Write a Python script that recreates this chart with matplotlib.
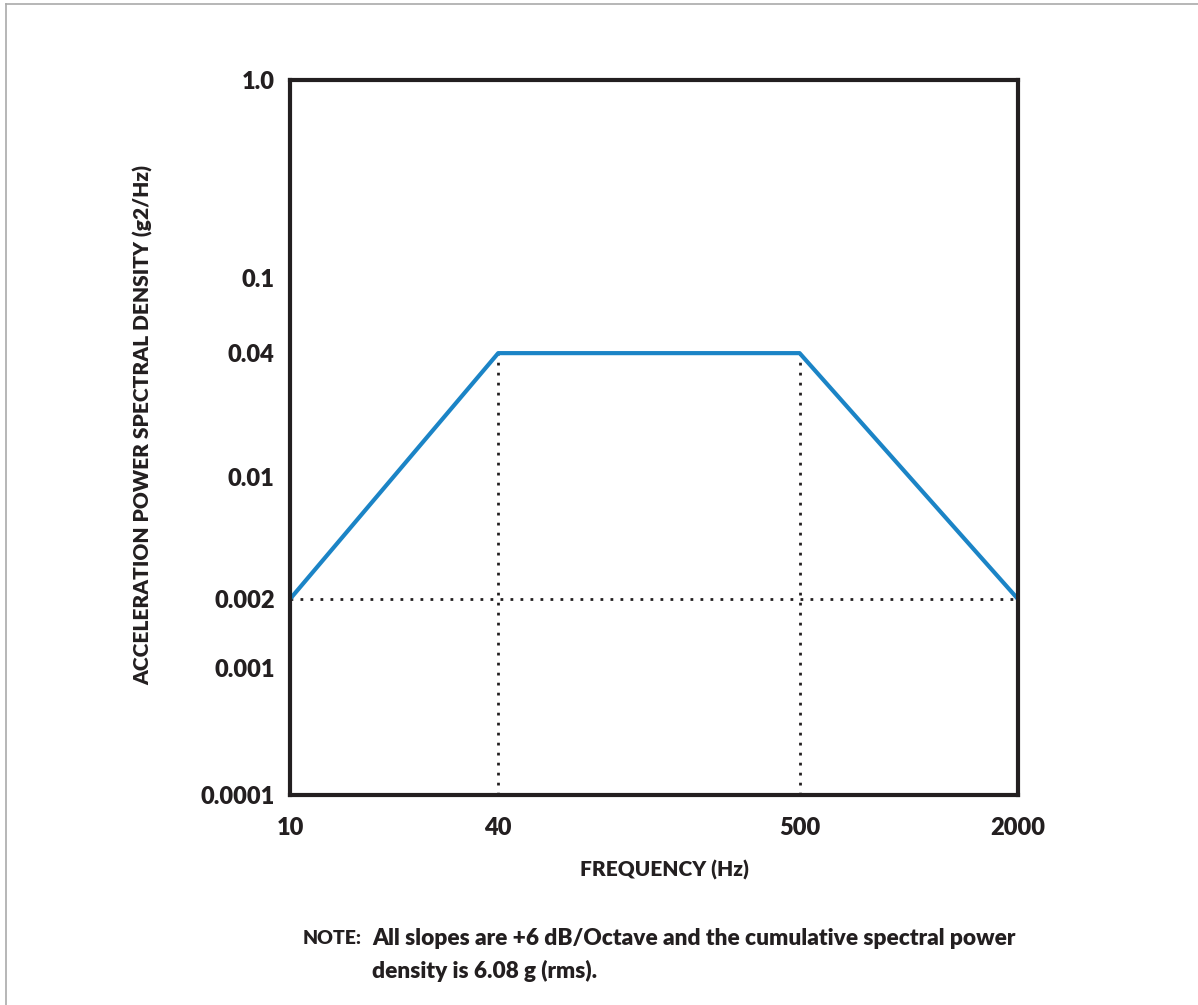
import numpy as np
import matplotlib.pyplot as plt
from matplotlib.lines import Line2D

# breakpoints of the random vibration profile
freq = [10, 40, 500, 2000]
psd = [0.002, 0.04, 0.04, 0.002]

# values printed on the axes
x_ticks = [10, 40, 500, 2000]
x_labels = ['10', '40', '500', '2000']
y_ticks = [0.0001, 0.001, 0.002, 0.01, 0.04, 0.1, 1.0]
y_labels = ['0.0001', '0.001', '0.002', '0.01', '0.04', '0.1', '1.0']

# the drawing is schematic, so the ticks are not at true log spacing:
# each tick value gets its own spot along the axis (0 = start, 1 = end)
x_spots = [0.0, 0.286, 0.700, 1.0]
y_spots = [0.0, 0.178, 0.274, 0.445, 0.618, 0.723, 1.0]

ink = '#231f20'
blue = '#1b84c6'
heavy = 'heavy'
plt.rcParams['font.family'] = ['Lato', 'DejaVu Sans']


def make_scale(ticks, spots):
	"Builds forward/inverse functions for a piecewise log scale"
	logs = np.log10(ticks)

	def forward(v):
		v = np.clip(np.asarray(v, dtype=float), 1e-12, None)
		return np.interp(np.log10(v), logs, spots)

	def inverse(p):
		return 10 ** np.interp(np.asarray(p, dtype=float), spots, logs)

	return forward, inverse


fig = plt.figure(figsize=(11.98, 10.05), dpi=100)
W, H = 1198.0, 1005.0
ax = fig.add_axes([290 / W, 1 - 795 / H, (1018 - 290) / W, (795 - 80) / H])

ax.set_xscale('function', functions=make_scale(x_ticks, x_spots))
ax.set_yscale('function', functions=make_scale(y_ticks, y_spots))
ax.set_xlim(x_ticks[0], x_ticks[-1])
ax.set_ylim(y_ticks[0], y_ticks[-1])

# dotted guide lines at the breakpoints
dots = (0, (1, 2.6))
ax.plot([freq[0], freq[-1]], [psd[0], psd[-1]], color=ink, lw=2.0,
	linestyle=dots, zorder=2)
for f in freq[1:3]:
	ax.plot([f, f], [y_ticks[0], psd[1]], color=ink, lw=2.0,
		linestyle=dots, zorder=2)

# the profile itself
ax.plot(freq, psd, color=blue, lw=3.0, solid_capstyle='butt', zorder=3)

ax.set_xticks(x_ticks)
ax.set_xticklabels(x_labels)
ax.set_yticks(y_ticks)
ax.set_yticklabels(y_labels)
ax.minorticks_off()
ax.tick_params(length=0, labelsize=17, colors=ink, labelcolor=ink)
ax.tick_params(axis='x', pad=16)
ax.tick_params(axis='y', pad=11)
for lab in ax.get_xticklabels() + ax.get_yticklabels():
	lab.set_fontweight(heavy)

for s in ax.spines.values():
	s.set_linewidth(3.0)
	s.set_color(ink)
	s.set_zorder(5)

fig.text(143 / W, 1 - 425 / H, 'ACCELERATION POWER SPECTRAL DENSITY (g2/Hz)',
	rotation=90, ha='center', va='center', fontsize=15, color=ink,
	fontweight=heavy)
fig.text(664 / W, 1 - 870 / H, 'FREQUENCY (Hz)', ha='center', va='center',
	fontsize=15, color=ink, fontweight=heavy)

# note below the chart
fig.text(303 / W, 1 - 938 / H, 'NOTE:', ha='left', va='center',
	fontsize=14, color=ink, fontweight=heavy)
fig.text(372 / W, 1 - 938 / H,
	'All slopes are +6 dB/Octave and the cumulative spectral power',
	ha='left', va='center', fontsize=16.3, color=ink, fontweight=heavy)
fig.text(372 / W, 1 - 971 / H, 'density is 6.08 g (rms).',
	ha='left', va='center', fontsize=16.3, color=ink, fontweight=heavy)

# thin grey frame of the page (top and left edges only are in view)
fig.add_artist(Line2D([6 / W, 6 / W], [0, 1 - 4 / H], color='#aaaaaa',
	lw=1.2, transform=fig.transFigure))
fig.add_artist(Line2D([6 / W, 1], [1 - 4 / H, 1 - 4 / H], color='#aaaaaa',
	lw=1.2, transform=fig.transFigure))

fig.savefig('out.png', dpi=100, facecolor='white')
